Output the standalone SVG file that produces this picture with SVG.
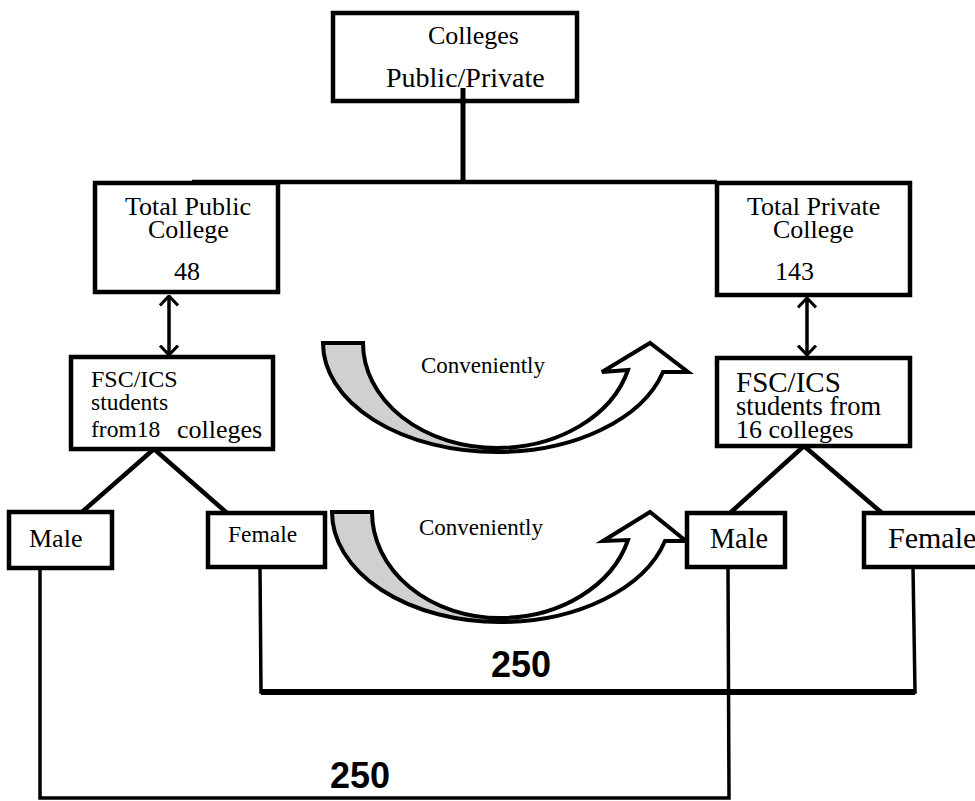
<svg xmlns="http://www.w3.org/2000/svg" width="975" height="801" viewBox="0 0 975 801">
<defs>
<style>
.box{fill:#fff;stroke:#000;stroke-width:4.5}
.t{font-family:"Liberation Serif","Times New Roman",serif;fill:#000}
.ln{stroke:#000;fill:none;stroke-linecap:butt}
.num{font-family:"Liberation Sans",Arial,sans-serif;font-weight:bold;font-size:36px;fill:#000}
.sh{stroke:#000;stroke-width:4;stroke-linejoin:miter}
</style>
<marker id="chev" viewBox="0 0 12 20" refX="10.5" refY="10" markerWidth="12" markerHeight="20" markerUnits="userSpaceOnUse" orient="auto-start-reverse">
<path d="M1,1 L10.5,10 L1,19" fill="none" stroke="#000" stroke-width="3"/>
</marker>
</defs>
<rect width="975" height="801" fill="#fff"/>

<g id="connectors">
<line class="ln" x1="463" y1="88" x2="463" y2="184" stroke-width="5"/>
<line class="ln" x1="192" y1="182" x2="717" y2="182" stroke-width="4.5"/>
<line class="ln" x1="169" y1="296" x2="169" y2="355" stroke-width="3.5" marker-start="url(#chev)" marker-end="url(#chev)"/>
<line class="ln" x1="807" y1="298" x2="807" y2="355" stroke-width="3.5" marker-start="url(#chev)" marker-end="url(#chev)"/>
<line class="ln" x1="154" y1="449" x2="82" y2="512" stroke-width="4.5"/>
<line class="ln" x1="154" y1="449" x2="227" y2="513" stroke-width="4.5"/>
<line class="ln" x1="804" y1="446" x2="730" y2="513" stroke-width="4.5"/>
<line class="ln" x1="804" y1="446" x2="882" y2="513" stroke-width="4.5"/>
<polyline class="ln" points="260,567 261,692 915,692 913,567" stroke-width="3.5"/>
<line class="ln" x1="261" y1="692" x2="915" y2="692" stroke-width="6"/>
<polyline class="ln" points="40,568 40,798 729,798 728,567" stroke-width="3.5"/>
</g>

<g id="arrow1">
<path class="sh" fill="#d0d0d0" d="M323,343 L363,343 A134,105 0 0 0 497,448 L497,452 A174,109 0 0 1 323,343 Z"/>
<path class="sh" fill="#fff" d="M497,448 A136,105 0 0 0 628,370 L602,372 L650,343 L688,372 L663,372 A172,109 0 0 1 497,452 Z"/>
</g>
<g id="arrow2">
<path class="sh" fill="#d0d0d0" d="M332,512 L372,512 A128,106 0 0 0 500,618 L500,622 A168,110 0 0 1 332,512 Z"/>
<path class="sh" fill="#fff" d="M500,618 A133,106 0 0 0 628,540 L603,541 L650,512 L686,541 L665,541 A171,110 0 0 1 500,622 Z"/>
</g>

<g id="colleges">
<rect class="box" x="333" y="13" width="244" height="88"/>
<text class="t" x="428" y="44" font-size="26">Colleges</text>
<text class="t" x="386" y="87" font-size="28">Public/Private</text>
</g>
<line class="ln" x1="463" y1="88" x2="463" y2="104" stroke-width="5"/>

<g id="public">
<rect class="box" x="95" y="183" width="183" height="109"/>
<text class="t" x="125" y="215" font-size="26">Total Public</text>
<text class="t" x="148" y="238" font-size="26">College</text>
<text class="t" x="174" y="280" font-size="26">48</text>
</g>

<g id="private">
<rect class="box" x="717" y="183" width="193" height="112"/>
<text class="t" x="747" y="215" font-size="26">Total Private</text>
<text class="t" x="773" y="238" font-size="26">College</text>
<text class="t" x="775" y="280" font-size="26">143</text>
</g>

<g id="fsc-left">
<rect class="box" x="71" y="357" width="202" height="92"/>
<text class="t" x="91" y="387" font-size="24">FSC/ICS</text>
<text class="t" x="91" y="410" font-size="23.5">students</text>
<text class="t" x="91" y="437" font-size="23.5">from18</text>
<text class="t" x="177" y="438" font-size="26">colleges</text>
</g>

<g id="fsc-right">
<rect class="box" x="717" y="358" width="193" height="88"/>
<text class="t" x="736" y="392" font-size="29">FSC/ICS</text>
<text class="t" x="736" y="415" font-size="26.5">students from</text>
<text class="t" x="736" y="438" font-size="26">16 colleges</text>
</g>

<g id="male-left">
<rect class="box" x="9" y="512" width="103" height="56"/>
<text class="t" x="29" y="547" font-size="26">Male</text>
</g>
<g id="female-left">
<rect class="box" x="208" y="513" width="117" height="54"/>
<text class="t" x="228" y="542" font-size="23.5">Female</text>
</g>
<g id="male-right">
<rect class="box" x="687" y="513" width="98" height="54"/>
<text class="t" x="710" y="548" font-size="30" textLength="58" lengthAdjust="spacingAndGlyphs">Male</text>
</g>
<g id="female-right">
<rect class="box" x="864" y="513" width="125" height="54"/>
<text class="t" x="888" y="548" font-size="30">Female</text>
</g>

<g id="labels">
<text class="t" x="421" y="373" font-size="23">Conveniently</text>
<text class="t" x="419" y="535" font-size="23">Conveniently</text>
<text class="num" x="491" y="677">250</text>
<text class="num" x="330" y="788">250</text>
</g>
</svg>
